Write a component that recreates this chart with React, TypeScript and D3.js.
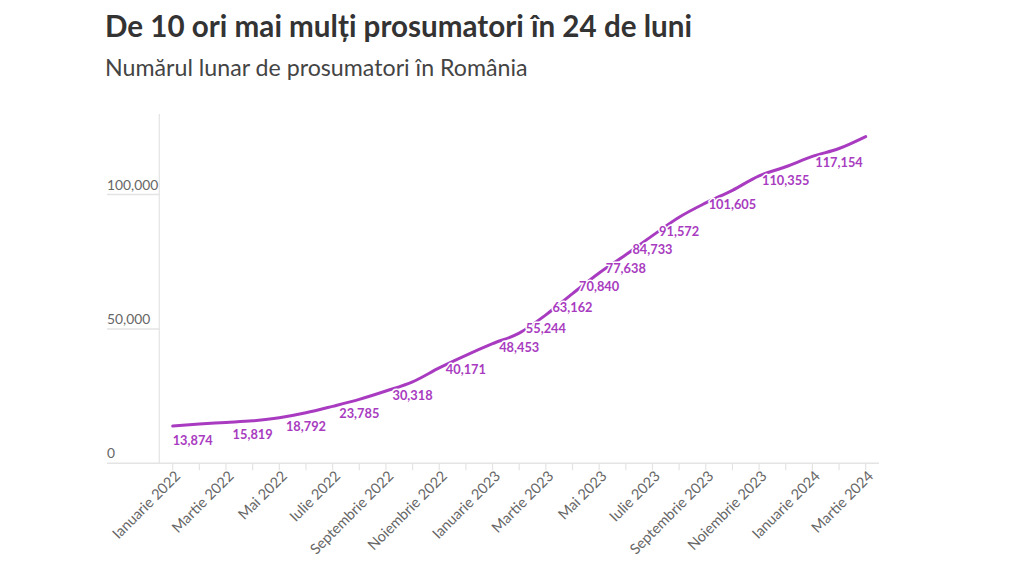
import React from "react";
import * as d3 from "d3";

const monthNames = ["Ianuarie","Februarie","Martie","Aprilie","Mai","Iunie","Iulie","August","Septembrie","Octombrie","Noiembrie","Decembrie"];
const months = [
  "2022-01","2022-02","2022-03","2022-04","2022-05","2022-06","2022-07","2022-08","2022-09","2022-10","2022-11","2022-12",
  "2023-01","2023-02","2023-03","2023-04","2023-05","2023-06","2023-07","2023-08","2023-09","2023-10","2023-11","2023-12",
  "2024-01","2024-02","2024-03"
];
const prosumers = [
  13874, 14600, 15200, 15819, 16950, 18792, 21200, 23785, 26900, 30318, 35500, 40171,
  44500, 48453, 55244, 63162, 70840, 77638, 84733, 91572, 96900, 101605, 107000, 110355,
  114200, 117154, 121600
];
const labeledMonths = ["2022-01","2022-04","2022-06","2022-08","2022-10","2022-12","2023-02","2023-03","2023-04","2023-05","2023-06","2023-07","2023-08","2023-10","2023-12","2024-02"];
const xTickLabelMonths = ["2022-01","2022-03","2022-05","2022-07","2022-09","2022-11","2023-01","2023-03","2023-05","2023-07","2023-09","2023-11","2024-01","2024-03"];
const yTicks = [0, 50000, 100000];

const title = "De 10 ori mai mulți prosumatori în 24 de luni";
const subtitle = "Numărul lunar de prosumatori în România";

const W = 1024, H = 576;
const FONT = "Lato, 'Open Sans', sans-serif";
const LINE_COLOR = "#a83bc0";

export default function App() {
  const x = d3.scalePoint<string>().domain(months).range([172.7, 865.7]);
  const y = d3.scaleLinear().domain([0, 130000]).range([463.3, 114]);
  const fmt = d3.format(",");
  const data = months.map((m, i) => ({ m, v: prosumers[i] }));
  const line = d3.line<{ m: string; v: number }>()
    .x(d => x(d.m) as number)
    .y(d => y(d.v))
    .curve(d3.curveMonotoneX);
  const monthLabel = (m: string) => {
    const [yr, mo] = m.split("-");
    return `${monthNames[+mo - 1]} ${yr}`;
  };
  const axisLeft = 107;
  const axisX = 159.3;
  const step = x.step();
  const axisRight = (x(months[months.length - 1]) as number) + step / 2;

  return (
    <div style={{ position: "absolute", left: 0, top: 0, width: W, height: H, background: "#fff" }}>
      <svg width={W} height={H} style={{ display: "block", fontFamily: FONT }}>
        <text x={105} y={37} fontSize={29.6} fontWeight={700} fill="#333">{title}</text>
        <text x={105} y={76} fontSize={23.2} fill="#444">{subtitle}</text>

        <line x1={axisX} x2={axisX} y1={y(130000)} y2={y(0)} stroke="#e4e4e4" strokeWidth={1.2} />
        {yTicks.map(t => (
          <g key={t}>
            <line x1={axisLeft} x2={t === 0 ? axisRight : axisX} y1={y(t)} y2={y(t)} stroke="#e4e4e4" strokeWidth={1.5} />
            <text x={axisLeft} y={y(t) - 5} fontSize={13.8} fill="#666">{fmt(t)}</text>
          </g>
        ))}

        {months.map(m => (
          <line key={m} x1={x(m)} x2={x(m)} y1={y(0)} y2={y(0) + 7} stroke="#e4e4e4" strokeWidth={1.2} />
        ))}
        {xTickLabelMonths.map(m => (
          <text
            key={m}
            transform={`translate(${(x(m) as number) + 5},${y(0) + 10}) rotate(-45)`}
            textAnchor="end"
            dy="0.35em"
            fontSize={14.6}
            fill="#666"
          >
            {monthLabel(m)}
          </text>
        ))}

        <path d={line(data) || ""} fill="none" stroke={LINE_COLOR} strokeWidth={3} strokeLinejoin="round" strokeLinecap="round" />

        {data.filter(d => labeledMonths.includes(d.m)).map((d, i) => (
          <text
            key={d.m}
            x={x(d.m) as number}
            y={y(d.v) + 14}
            dy="0.35em"
            textAnchor={i === 0 ? "start" : "middle"}
            fontSize={12.8}
            fontWeight={700}
            fill={LINE_COLOR}
            stroke="#fff"
            strokeWidth={3}
            strokeLinejoin="round"
            style={{ paintOrder: "stroke" }}
          >
            {fmt(d.v)}
          </text>
        ))}
      </svg>
    </div>
  );
}
